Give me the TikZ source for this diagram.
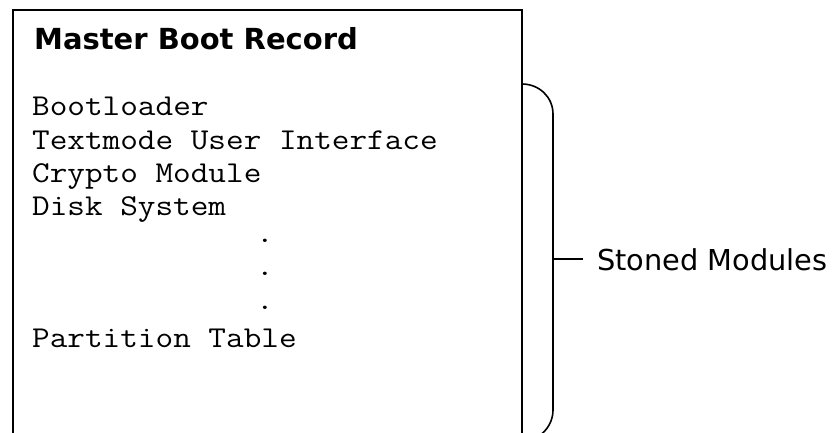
\documentclass[tikz,border=0pt]{standalone}
\usepackage{fontspec}
\setmainfont{DejaVu Sans}
\newfontfamily\monofont{Latin Modern Mono}[FakeStretch=1.13]
\newfontfamily\titlefont{DejaVu Sans}
\begin{document}
\begin{tikzpicture}[x=1pt,y=-1pt,
  frame/.style={line width=1.6pt,line join=miter},
  title/.style={anchor=base west,inner sep=0pt,font=\titlefont\bfseries\fontsize{29}{30}\selectfont},
  mono/.style={anchor=base west,inner sep=0pt,font=\monofont\fontsize{30.3}{33}\selectfont},
  dotnode/.style={anchor=base,inner sep=0pt,font=\monofont\fontsize{30.3}{33}\selectfont},
  label/.style={anchor=base west,inner sep=0pt,font=\fontsize{28.8}{30}\selectfont}]
\useasboundingbox (0,0) rectangle (834,433);
\clip (0,0) rectangle (834,433);
% box (open at the bottom)
\coordinate (bl) at (13,445);
\coordinate (tl) at (13,10);
\coordinate (tr) at (522,10);
\coordinate (br) at (522,445);
\draw[frame] (bl) -- (tl) -- (tr) -- (br);
% title and content
\node[title] (mbr) at (34,50) {Master Boot Record};
\node[mono] (l1) at (32,116) {Bootloader};
\node[mono] (l2) at (32,149) {Textmode User Interface};
\node[mono] (l3) at (32,182) {Crypto Module};
\node[mono] (l4) at (32,215) {Disk System};
\node[dotnode] (d1) at (265,242) {.};
\node[dotnode] (d2) at (265,275) {.};
\node[dotnode] (d3) at (265,309) {.};
\node[mono] (l5) at (32,347) {Partition Table};
% brace
\coordinate (bt) at (522,84);
\coordinate (bt2) at (553,114);
\coordinate (bm) at (553,259);
\coordinate (bb2) at (553,410);
\coordinate (bb) at (522,441);
\coordinate (tip) at (583,259);
\draw[frame] (bt) .. controls (539,84) and (553,97) .. (bt2) -- (bb2)
  .. controls (553,427) and (539,441) .. (bb);
\draw[frame] (bm) -- (tip);
\node[label] (stoned) at (597,270) {Stoned Modules};
\end{tikzpicture}
\end{document}
